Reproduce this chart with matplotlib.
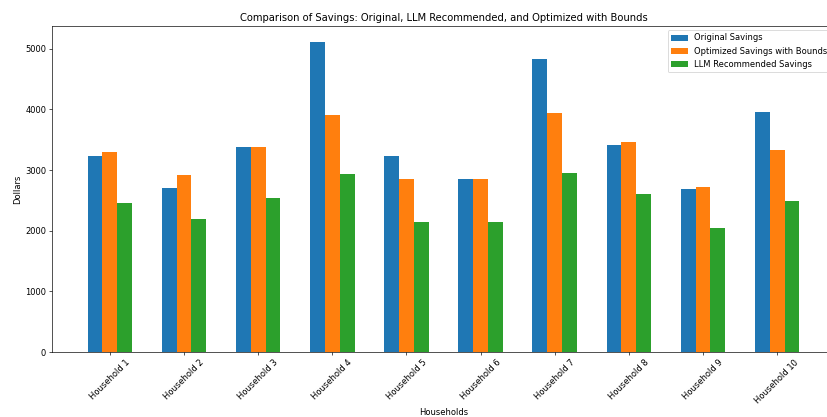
import matplotlib
matplotlib.use("Agg")
import matplotlib.pyplot as plt
import numpy as np

households = [f"Household {i}" for i in range(1, 11)]
original = [3240, 2710, 3380, 5120, 3240, 2850, 4835, 3420, 2695, 3960]
optimized = [3290, 2915, 3380, 3910, 2850, 2850, 3945, 3460, 2720, 3325]
llm = [2465, 2190, 2535, 2935, 2145, 2140, 2950, 2600, 2040, 2485]

DPI = 60
fig = plt.figure(figsize=(827 / DPI, 417 / DPI), dpi=DPI)
ax = fig.add_axes([52 / 827, 1 - 352 / 417, (835 - 52) / 827, (352 - 26) / 417])

x = np.arange(len(households))
w = 0.2
ax.bar(x - w, original, w, label="Original Savings", color="#1f77b4")
ax.bar(x, optimized, w, label="Optimized Savings with Bounds", color="#ff7f0e")
ax.bar(x + w, llm, w, label="LLM Recommended Savings", color="#2ca02c")

ax.set_xticks(x)
ax.set_xticklabels(households, rotation=45)
ax.set_xlabel("Households")
ax.set_ylabel("Dollars")
ax.set_title("Comparison of Savings: Original, LLM Recommended, and Optimized with Bounds")
ax.legend(loc="upper right")

fig.savefig("out.png", dpi=DPI)
